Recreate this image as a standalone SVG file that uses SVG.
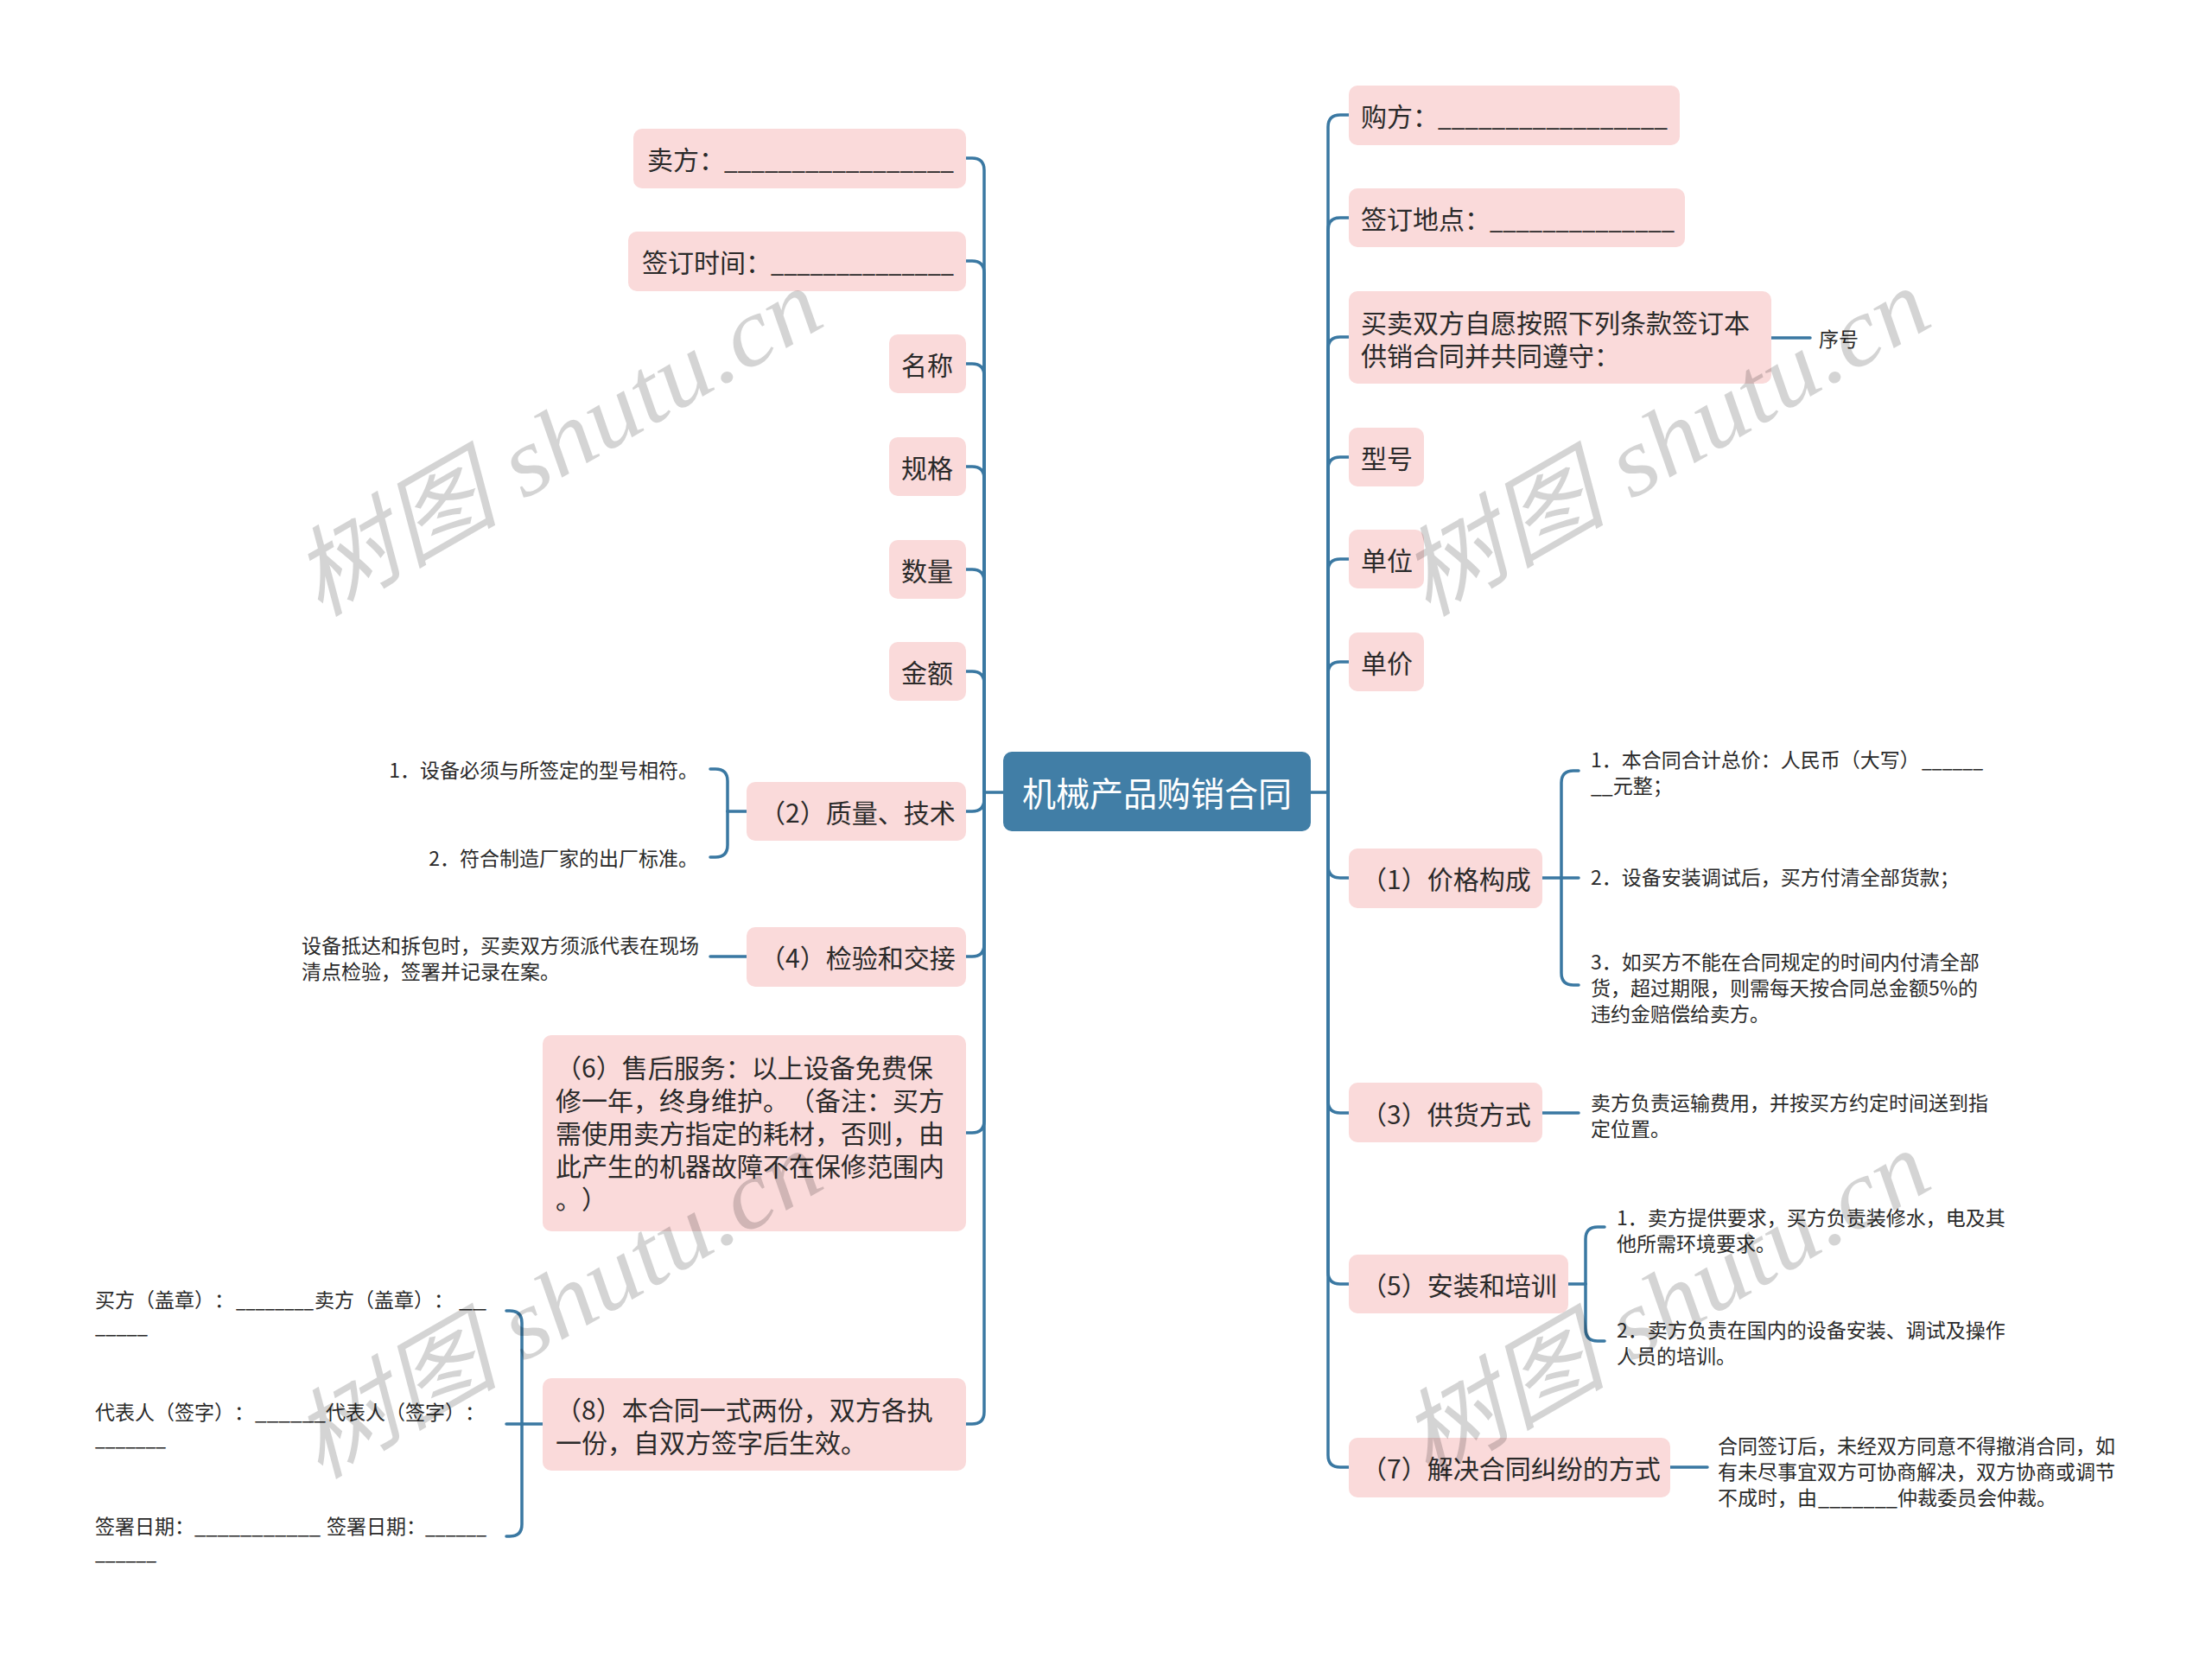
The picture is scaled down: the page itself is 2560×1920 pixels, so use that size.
<svg xmlns="http://www.w3.org/2000/svg" width="2560" height="1920" viewBox="0 0 2560 1920">
<style>
.bg{fill:#ffffff}
.box{fill:#FADADA}
.root{fill:#417EA6}
text{text-spacing-trim:space-all}
.t{font-family:"Noto Sans CJK SC","Noto Sans",sans-serif;font-size:30px;fill:#2a2a2a;dominant-baseline:central}
.rt{font-family:"Noto Sans CJK SC","Noto Sans",sans-serif;font-size:39px;fill:#ffffff;dominant-baseline:central;text-anchor:middle}
.s{font-family:"Noto Sans CJK SC","Noto Sans",sans-serif;font-size:23px;fill:#2a2a2a;dominant-baseline:central}
.end{text-anchor:end}
.link{fill:none;stroke:#3A78A2;stroke-width:3.5;stroke-linecap:round;stroke-linejoin:round}
.wm{font-family:"Liberation Serif","Noto Sans CJK SC",serif;font-style:italic;font-size:112px;fill:#000000;fill-opacity:0.17;text-anchor:middle;dominant-baseline:central}
</style>
<rect class="bg" x="0" y="0" width="2560" height="1920"/>

<g id="connectors">
  <path class="link" d="M1161 917 H1139"/>
  <path class="link" d="M1517 917 H1537"/>
  <path class="link" d="M1139 917 V197 Q1139 183 1125 183 H1118"/>
  <path class="link" d="M1139 917 V316 Q1139 302 1125 302 H1118"/>
  <path class="link" d="M1139 917 V435 Q1139 421 1125 421 H1118"/>
  <path class="link" d="M1139 917 V554 Q1139 540 1125 540 H1118"/>
  <path class="link" d="M1139 917 V673 Q1139 659 1125 659 H1118"/>
  <path class="link" d="M1139 917 V791 Q1139 777 1125 777 H1118"/>
  <path class="link" d="M1139 917 V925 Q1139 939 1125 939 H1118"/>
  <path class="link" d="M1139 917 V1093 Q1139 1107 1125 1107 H1118"/>
  <path class="link" d="M1139 917 V1297 Q1139 1311 1125 1311 H1118"/>
  <path class="link" d="M1139 917 V1634 Q1139 1648 1125 1648 H1118"/>
  <path class="link" d="M1537 917 V147 Q1537 133 1551 133 H1561"/>
  <path class="link" d="M1537 917 V266 Q1537 252 1551 252 H1561"/>
  <path class="link" d="M1537 917 V404 Q1537 390 1551 390 H1561"/>
  <path class="link" d="M1537 917 V543 Q1537 529 1551 529 H1561"/>
  <path class="link" d="M1537 917 V661 Q1537 647 1551 647 H1561"/>
  <path class="link" d="M1537 917 V780 Q1537 766 1551 766 H1561"/>
  <path class="link" d="M1537 917 V1002 Q1537 1016 1551 1016 H1561"/>
  <path class="link" d="M1537 917 V1274 Q1537 1288 1551 1288 H1561"/>
  <path class="link" d="M1537 917 V1472 Q1537 1486 1551 1486 H1561"/>
  <path class="link" d="M1537 917 V1684 Q1537 1698 1551 1698 H1561"/>
  <path class="link" d="M864 939 H842"/>
  <path class="link" d="M842 939 V904 Q842 890 828 890 H822"/>
  <path class="link" d="M842 939 V978 Q842 992 828 992 H822"/>
  <path class="link" d="M864 1107 H822"/>
  <path class="link" d="M628 1648 H604"/>
  <path class="link" d="M604 1648 V1531 Q604 1517 590 1517 H586"/>
  <path class="link" d="M604 1648 H586"/>
  <path class="link" d="M604 1648 V1764 Q604 1778 590 1778 H586"/>
  <path class="link" d="M2050 391 H2095"/>
  <path class="link" d="M1785 1016 H1807"/>
  <path class="link" d="M1807 1016 V906 Q1807 892 1821 892 H1827"/>
  <path class="link" d="M1807 1016 H1827"/>
  <path class="link" d="M1807 1016 V1126 Q1807 1140 1821 1140 H1827"/>
  <path class="link" d="M1785 1288 H1827"/>
  <path class="link" d="M1815 1486 H1835"/>
  <path class="link" d="M1835 1486 V1434 Q1835 1420 1849 1420 H1857"/>
  <path class="link" d="M1835 1486 V1538 Q1835 1552 1849 1552 H1857"/>
  <path class="link" d="M1933 1698 H1976"/>
</g>

<g id="root">
  <rect class="root" x="1161" y="870" width="356" height="92" rx="10"/>
  <text class="rt" x="1339" y="916">机械产品购销合同</text>
</g>

<g id="seller">
  <rect class="box" x="733" y="149" width="385" height="69" rx="10"/>
  <text class="t" x="749" y="183">卖方：<tspan x="838" textLength="266" lengthAdjust="spacingAndGlyphs">_________________</tspan></text>
</g>
<g id="sign-time">
  <rect class="box" x="727" y="268" width="391" height="69" rx="10"/>
  <text class="t" x="743" y="302">签订时间：<tspan x="892" textLength="212" lengthAdjust="spacingAndGlyphs">______________</tspan></text>
</g>
<g id="name">
  <rect class="box" x="1029" y="387" width="89" height="68" rx="10"/>
  <text class="t" x="1043" y="421">名称</text>
</g>
<g id="spec">
  <rect class="box" x="1029" y="506" width="89" height="68" rx="10"/>
  <text class="t" x="1043" y="540">规格</text>
</g>
<g id="qty">
  <rect class="box" x="1029" y="625" width="89" height="68" rx="10"/>
  <text class="t" x="1043" y="659">数量</text>
</g>
<g id="amount">
  <rect class="box" x="1029" y="743" width="89" height="68" rx="10"/>
  <text class="t" x="1043" y="777">金额</text>
</g>
<g id="quality">
  <rect class="box" x="864" y="905" width="254" height="68" rx="10"/>
  <text class="t" x="879" y="939">（2）质量、技术</text>
</g>
<g id="quality-1">
  <text class="s end" x="808" y="890">1．设备必须与所签定的型号相符。</text>
</g>
<g id="quality-2">
  <text class="s end" x="808" y="992">2．符合制造厂家的出厂标准。</text>
</g>
<g id="inspect">
  <rect class="box" x="864" y="1073" width="254" height="69" rx="10"/>
  <text class="t" x="879" y="1107">（4）检验和交接</text>
</g>
<g id="inspect-1">
  <text class="s" x="349" y="1093">设备抵达和拆包时，买卖双方须派代表在现场</text>
  <text class="s" x="349" y="1123">清点检验，签署并记录在案。</text>
</g>
<g id="service">
  <rect class="box" x="628" y="1198" width="490" height="227" rx="10"/>
  <text class="t" x="643" y="1234">（6）售后服务：以上设备免费保</text>
  <text class="t" x="643" y="1272">修一年，终身维护。（备注：买方</text>
  <text class="t" x="643" y="1310">需使用卖方指定的耗材，否则，由</text>
  <text class="t" x="643" y="1348">此产生的机器故障不在保修范围内</text>
  <text class="t" x="643" y="1386">。）</text>
</g>
<g id="copies">
  <rect class="box" x="628" y="1595" width="490" height="107" rx="10"/>
  <text class="t" x="643" y="1630">（8）本合同一式两份，双方各执</text>
  <text class="t" x="643" y="1668">一份，自双方签字后生效。</text>
</g>
<g id="copies-1">
  <text class="s" x="110" y="1503">买方（盖章）：<tspan x="273" textLength="90" lengthAdjust="spacingAndGlyphs">________</tspan><tspan x="364">卖方（盖章）：</tspan><tspan x="531" textLength="32" lengthAdjust="spacingAndGlyphs">__</tspan></text>
  <text class="s" x="110" y="1533" textLength="61" lengthAdjust="spacingAndGlyphs">_____</text>
</g>
<g id="copies-2">
  <text class="s" x="110" y="1633">代表人（签字）：<tspan x="295" textLength="82" lengthAdjust="spacingAndGlyphs">______</tspan><tspan x="377">代表人（签字）：</tspan></text>
  <text class="s" x="110" y="1663" textLength="82" lengthAdjust="spacingAndGlyphs">_______</text>
</g>
<g id="copies-3">
  <text class="s" x="110" y="1765">签署日期：<tspan x="225" textLength="146" lengthAdjust="spacingAndGlyphs">___________</tspan><tspan x="378">签署日期：</tspan><tspan x="492" textLength="71" lengthAdjust="spacingAndGlyphs">______</tspan></text>
  <text class="s" x="110" y="1795" textLength="71" lengthAdjust="spacingAndGlyphs">______</text>
</g>

<g id="buyer">
  <rect class="box" x="1561" y="99" width="383" height="69" rx="10"/>
  <text class="t" x="1575" y="133">购方：<tspan x="1664" textLength="266" lengthAdjust="spacingAndGlyphs">_________________</tspan></text>
</g>
<g id="sign-place">
  <rect class="box" x="1561" y="218" width="389" height="68" rx="10"/>
  <text class="t" x="1575" y="252">签订地点：<tspan x="1724" textLength="214" lengthAdjust="spacingAndGlyphs">______________</tspan></text>
</g>
<g id="agree">
  <rect class="box" x="1561" y="337" width="489" height="107" rx="10"/>
  <text class="t" x="1575" y="372">买卖双方自愿按照下列条款签订本</text>
  <text class="t" x="1575" y="410">供销合同并共同遵守：</text>
</g>
<g id="serial">
  <text class="s" x="2105" y="391">序号</text>
</g>
<g id="model">
  <rect class="box" x="1561" y="495" width="87" height="68" rx="10"/>
  <text class="t" x="1575" y="529">型号</text>
</g>
<g id="unit">
  <rect class="box" x="1561" y="613" width="87" height="68" rx="10"/>
  <text class="t" x="1575" y="647">单位</text>
</g>
<g id="unit-price">
  <rect class="box" x="1561" y="732" width="87" height="68" rx="10"/>
  <text class="t" x="1575" y="766">单价</text>
</g>
<g id="price">
  <rect class="box" x="1561" y="982" width="224" height="69" rx="10"/>
  <text class="t" x="1575" y="1016">（1）价格构成</text>
</g>
<g id="price-1">
  <text class="s" x="1841" y="878">1．本合同合计总价：人民币（大写）<tspan x="2224" textLength="71" lengthAdjust="spacingAndGlyphs">______</tspan></text>
  <text class="s" x="1841" y="908">__元整；</text>
</g>
<g id="price-2">
  <text class="s" x="1841" y="1014">2．设备安装调试后，买方付清全部货款；</text>
</g>
<g id="price-3">
  <text class="s" x="1841" y="1112">3．如买方不能在合同规定的时间内付清全部</text>
  <text class="s" x="1841" y="1142">货，超过期限，则需每天按合同总金额5%的</text>
  <text class="s" x="1841" y="1172">违约金赔偿给卖方。</text>
</g>
<g id="supply">
  <rect class="box" x="1561" y="1253" width="224" height="69" rx="10"/>
  <text class="t" x="1575" y="1288">（3）供货方式</text>
</g>
<g id="supply-1">
  <text class="s" x="1841" y="1275">卖方负责运输费用，并按买方约定时间送到指</text>
  <text class="s" x="1841" y="1305">定位置。</text>
</g>
<g id="install">
  <rect class="box" x="1561" y="1452" width="254" height="68" rx="10"/>
  <text class="t" x="1575" y="1486">（5）安装和培训</text>
</g>
<g id="install-1">
  <text class="s" x="1871" y="1408">1．卖方提供要求，买方负责装修水，电及其</text>
  <text class="s" x="1871" y="1438">他所需环境要求。</text>
</g>
<g id="install-2">
  <text class="s" x="1871" y="1538">2．卖方负责在国内的设备安装、调试及操作</text>
  <text class="s" x="1871" y="1568">人员的培训。</text>
</g>
<g id="dispute">
  <rect class="box" x="1561" y="1664" width="372" height="69" rx="10"/>
  <text class="t" x="1575" y="1698">（7）解决合同纠纷的方式</text>
</g>
<g id="dispute-1">
  <text class="s" x="1988" y="1672">合同签订后，未经双方同意不得撤消合同，如</text>
  <text class="s" x="1988" y="1702">有未尽事宜双方可协商解决，双方协商或调节</text>
  <text class="s" x="1988" y="1732">不成时，由<tspan x="2104" textLength="92" lengthAdjust="spacingAndGlyphs">_______</tspan><tspan x="2196">仲裁委员会仲裁。</tspan></text>
</g>

<g id="watermarks">
  <text class="wm" transform="translate(645 512) rotate(-30)" textLength="680" lengthAdjust="spacingAndGlyphs">树图 shutu.cn</text>
  <text class="wm" transform="translate(1927 512) rotate(-30)" textLength="680" lengthAdjust="spacingAndGlyphs">树图 shutu.cn</text>
  <text class="wm" transform="translate(645 1510) rotate(-30)" textLength="680" lengthAdjust="spacingAndGlyphs">树图 shutu.cn</text>
  <text class="wm" transform="translate(1927 1510) rotate(-30)" textLength="680" lengthAdjust="spacingAndGlyphs">树图 shutu.cn</text>
</g>
</svg>
